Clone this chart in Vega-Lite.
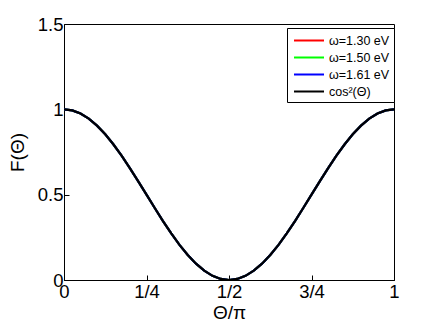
{
  "$schema": "https://vega.github.io/schema/vega-lite/v6.json",
  "width": 330,
  "height": 256,
  "autosize": {"type": "none"},
  "padding": {"left": 64, "top": 24, "right": 42, "bottom": 48},
  "background": "white",
  "config": {
    "font": "Liberation Sans",
    "view": {"stroke": "black", "strokeWidth": 1},
    "axis": {
      "domainColor": "black",
      "tickColor": "black",
      "labelColor": "black",
      "titleColor": "black",
      "labelFont": "Liberation Sans",
      "titleFont": "Liberation Sans",
      "labelFontSize": 18.5,
      "titleFontSize": 19,
      "titleFontWeight": "normal",
      "grid": false,
      "tickSize": -5,
      "labelPadding": 4
    },
    "legend": {"labelFont": "Liberation Sans"}
  },
  "data": {
    "values": [
      {"x": 0, "a": 1, "b": 1, "c": 1, "d": 1},
      {"x": 0.025, "a": 0.99384, "b": 0.99384, "c": 0.99384, "d": 0.99384},
      {"x": 0.05, "a": 0.97553, "b": 0.97553, "c": 0.97553, "d": 0.97553},
      {"x": 0.075, "a": 0.9455, "b": 0.9455, "c": 0.9455, "d": 0.9455},
      {"x": 0.1, "a": 0.90451, "b": 0.90451, "c": 0.90451, "d": 0.90451},
      {"x": 0.125, "a": 0.85355, "b": 0.85355, "c": 0.85355, "d": 0.85355},
      {"x": 0.15, "a": 0.79389, "b": 0.79389, "c": 0.79389, "d": 0.79389},
      {"x": 0.175, "a": 0.727, "b": 0.727, "c": 0.727, "d": 0.727},
      {"x": 0.2, "a": 0.65451, "b": 0.65451, "c": 0.65451, "d": 0.65451},
      {"x": 0.225, "a": 0.57822, "b": 0.57822, "c": 0.57822, "d": 0.57822},
      {"x": 0.25, "a": 0.5, "b": 0.5, "c": 0.5, "d": 0.5},
      {"x": 0.275, "a": 0.42178, "b": 0.42178, "c": 0.42178, "d": 0.42178},
      {"x": 0.3, "a": 0.34549, "b": 0.34549, "c": 0.34549, "d": 0.34549},
      {"x": 0.325, "a": 0.273, "b": 0.273, "c": 0.273, "d": 0.273},
      {"x": 0.35, "a": 0.20611, "b": 0.20611, "c": 0.20611, "d": 0.20611},
      {"x": 0.375, "a": 0.14645, "b": 0.14645, "c": 0.14645, "d": 0.14645},
      {"x": 0.4, "a": 0.09549, "b": 0.09549, "c": 0.09549, "d": 0.09549},
      {"x": 0.425, "a": 0.0545, "b": 0.0545, "c": 0.0545, "d": 0.0545},
      {"x": 0.45, "a": 0.02447, "b": 0.02447, "c": 0.02447, "d": 0.02447},
      {"x": 0.475, "a": 0.00616, "b": 0.00616, "c": 0.00616, "d": 0.00616},
      {"x": 0.5, "a": 0, "b": 0, "c": 0, "d": 0},
      {"x": 0.525, "a": 0.00616, "b": 0.00616, "c": 0.00616, "d": 0.00616},
      {"x": 0.55, "a": 0.02447, "b": 0.02447, "c": 0.02447, "d": 0.02447},
      {"x": 0.575, "a": 0.0545, "b": 0.0545, "c": 0.0545, "d": 0.0545},
      {"x": 0.6, "a": 0.09549, "b": 0.09549, "c": 0.09549, "d": 0.09549},
      {"x": 0.625, "a": 0.14645, "b": 0.14645, "c": 0.14645, "d": 0.14645},
      {"x": 0.65, "a": 0.20611, "b": 0.20611, "c": 0.20611, "d": 0.20611},
      {"x": 0.675, "a": 0.273, "b": 0.273, "c": 0.273, "d": 0.273},
      {"x": 0.7, "a": 0.34549, "b": 0.34549, "c": 0.34549, "d": 0.34549},
      {"x": 0.725, "a": 0.42178, "b": 0.42178, "c": 0.42178, "d": 0.42178},
      {"x": 0.75, "a": 0.5, "b": 0.5, "c": 0.5, "d": 0.5},
      {"x": 0.775, "a": 0.57822, "b": 0.57822, "c": 0.57822, "d": 0.57822},
      {"x": 0.8, "a": 0.65451, "b": 0.65451, "c": 0.65451, "d": 0.65451},
      {"x": 0.825, "a": 0.727, "b": 0.727, "c": 0.727, "d": 0.727},
      {"x": 0.85, "a": 0.79389, "b": 0.79389, "c": 0.79389, "d": 0.79389},
      {"x": 0.875, "a": 0.85355, "b": 0.85355, "c": 0.85355, "d": 0.85355},
      {"x": 0.9, "a": 0.90451, "b": 0.90451, "c": 0.90451, "d": 0.90451},
      {"x": 0.925, "a": 0.9455, "b": 0.9455, "c": 0.9455, "d": 0.9455},
      {"x": 0.95, "a": 0.97553, "b": 0.97553, "c": 0.97553, "d": 0.97553},
      {"x": 0.975, "a": 0.99384, "b": 0.99384, "c": 0.99384, "d": 0.99384},
      {"x": 1, "a": 1, "b": 1, "c": 1, "d": 1}
    ]
  },
  "transform": [
    {"fold": ["a", "b", "c", "d"], "as": ["key", "F"]},
    {"lookup": "key", "from": {"data": {"values": [
      {"key": "a", "series": "ω=1.30 eV"},
      {"key": "b", "series": "ω=1.50 eV"},
      {"key": "c", "series": "ω=1.61 eV"},
      {"key": "d", "series": "cos²(Θ)"}
    ]}, "key": "key", "fields": ["series"]}}
  ],
  "mark": {"type": "line", "strokeWidth": 2.2, "clip": true},
  "encoding": {
    "x": {
      "field": "x", "type": "quantitative",
      "scale": {"domain": [0, 1], "nice": false, "zero": false},
      "axis": {
        "title": "Θ/π",
        "values": [0, 0.25, 0.5, 0.75, 1],
        "format": "~g",
        "labelExpr": "datum.value == 0.25 ? '1/4' : datum.value == 0.5 ? '1/2' : datum.value == 0.75 ? '3/4' : datum.label",
        "labelFlush": false,
        "labelPadding": 7,
        "titlePadding": 3
      }
    },
    "y": {
      "field": "F", "type": "quantitative",
      "scale": {"domain": [0, 1.5], "nice": false},
      "axis": {
        "title": "F(Θ)",
        "values": [0, 0.5, 1, 1.5],
        "format": "~g",
        "labelFlush": false,
        "labelPadding": 6,
        "titlePadding": 10
      }
    },
    "color": {
      "field": "series", "type": "nominal",
      "scale": {
        "domain": ["ω=1.30 eV", "ω=1.50 eV", "ω=1.61 eV", "cos²(Θ)"],
        "range": ["#ff0000", "#00ff00", "#0000ff", "#000000"]
      },
      "legend": {
        "title": null,
        "orient": "none",
        "legendX": 223,
        "legendY": 4,
        "fillColor": "white",
        "strokeColor": "black",
        "padding": 4,
        "symbolType": "M-0.73,0H3.27",
        "symbolSize": 225,
        "symbolStrokeWidth": 2,
        "labelOffset": 21,
        "labelFontSize": 12.5,
        "labelColor": "black",
        "rowPadding": 2
      }
    }
  }
}
